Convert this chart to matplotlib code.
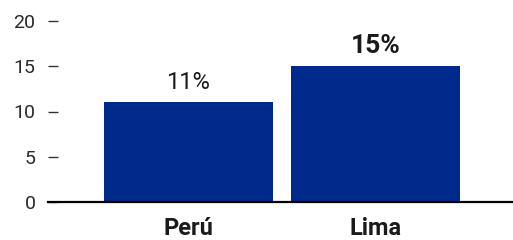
import matplotlib.pyplot as plt

categories = ["Perú", "Lima"]
values = [11, 15]
value_labels = ["11%", "15%"]
label_bold = [False, True]
yticks = [0, 5, 10, 15, 20]

BAR_COLOR = "#00298c"
TEXT_COLOR = "#1a1a1a"

plt.rcParams['font.family'] = ['Roboto', 'DejaVu Sans']

fig = plt.figure(figsize=(5.13, 2.40), dpi=100)
ax = fig.add_axes([48 / 513, 38 / 240, 465 / 513, 181 / 240])

x = range(len(categories))
ax.bar(x, values, width=0.904, color=BAR_COLOR, zorder=2)

# value labels above the bars
for xi, v, lab, bold in zip(x, values, value_labels, label_bold):
    ax.text(xi, v + 0.9, lab, ha="center", va="bottom",
            fontsize=19 if bold else 17, color=TEXT_COLOR,
            fontweight="bold" if bold else "normal")

ax.set_xlim(-0.751, 1.735)
ax.set_ylim(0, 20)

ax.set_yticks(yticks)
ax.set_yticklabels([str(t) for t in yticks], fontsize=14, fontweight="normal",
                   color="#2a2a2a")
ax.tick_params(axis="y", direction="in", length=7, width=1, pad=9,
               color="#333333")

ax.set_xticks(list(x))
ax.set_xticklabels(categories, fontsize=17, fontweight="bold", color=TEXT_COLOR)
ax.tick_params(axis="x", length=0, pad=11)

for side in ["left", "right", "top"]:
    ax.spines[side].set_visible(False)
ax.spines["bottom"].set_linewidth(1.6)
ax.spines["bottom"].set_color("black")
ax.spines["bottom"].set_zorder(3)

fig.savefig("out.png", dpi=100)
